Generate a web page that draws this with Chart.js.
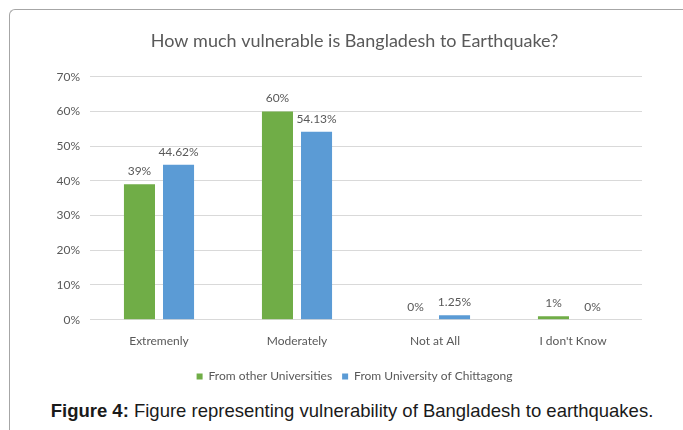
<!DOCTYPE html>
<html>
<head>
<meta charset="utf-8">
<script src="https://cdn.jsdelivr.net/npm/chart.js@4/dist/chart.umd.min.js"></script>
<style>
  html, body { margin: 0; padding: 0; background: #fff; }
  body { width: 683px; height: 430px; position: relative; overflow: hidden; }
  #frame {
    position: absolute; left: 9px; top: 9px; width: 700px; height: 440px;
    border-top: 1px solid #a6a6a6; border-left: 1px solid #a6a6a6;
    border-top-left-radius: 6px; box-sizing: border-box;
  }
  #wrap { position: absolute; left: 26px; top: 10px; width: 657px; height: 385px; }
  #caption {
    position: absolute; left: 0; width: 704px; top: 400px;
    text-align: center; font-family: "Liberation Sans", Arial, sans-serif;
    font-size: 18.5px; line-height: 21px; color: #1a1a1a; white-space: nowrap;
  }
</style>
</head>
<body>
<div id="frame"></div>
<div id="wrap"><canvas id="chart"></canvas></div>
<div id="caption"><b>Figure 4:</b> Figure representing vulnerability of Bangladesh to earthquakes.</div>
<script>
const categories = ["Extremenly", "Moderately", "Not at All", "I don't Know"];
const otherUniversities = [39, 60, 0, 1];
const chittagong = [44.62, 54.13, 1.25, 0];
const seriesNames = ["From other Universities", "From University of Chittagong"];
const yTicks = [0, 10, 20, 30, 40, 50, 60, 70];

const textGrey = "#595959";
const fontFamily = "Lato, 'Open Sans', sans-serif";

// value labels above each bar
const barValueLabels = {
  id: "barValueLabels",
  afterDatasetsDraw(chart) {
    const ctx = chart.ctx;
    ctx.save();
    ctx.font = "12px " + fontFamily;
    ctx.fillStyle = textGrey;
    ctx.textAlign = "center";
    ctx.textBaseline = "bottom";
    chart.data.datasets.forEach((ds, di) => {
      const meta = chart.getDatasetMeta(di);
      meta.data.forEach((bar, i) => {
        ctx.fillText(ds.data[i] + "%", bar.x, bar.y - 7);
      });
    });
    ctx.restore();
  }
};

new Chart(document.getElementById("chart"), {
  type: "bar",
  data: {
    labels: categories,
    datasets: [
      { label: seriesNames[0], data: otherUniversities, backgroundColor: "#70ad47",
        categoryPercentage: 0.566, barPercentage: 0.795 },
      { label: seriesNames[1], data: chittagong, backgroundColor: "#5b9bd5",
        categoryPercentage: 0.566, barPercentage: 0.795 }
    ]
  },
  options: {
    responsive: true,
    maintainAspectRatio: false,
    animation: false,
    layout: { padding: { top: 0, right: 0, bottom: 2.5, left: 0 } },
    plugins: {
      title: {
        display: true,
        text: "How much vulnerable is Bangladesh to Earthquake?",
        color: textGrey,
        font: { family: fontFamily, size: 18, weight: "normal" },
        padding: { top: 20, bottom: 25.1 }
      },
      legend: {
        position: "bottom",
        labels: {
          color: textGrey,
          font: { family: fontFamily, size: 12 },
          boxWidth: 6, boxHeight: 6, padding: 10
        }
      },
      tooltip: { enabled: false }
    },
    scales: {
      x: {
        grid: { display: false, drawTicks: false },
        border: { display: false },
        ticks: { color: textGrey, font: { family: fontFamily, size: 12 }, padding: 14 },
        afterFit(scale) { scale.height = 40.8; }
      },
      y: {
        min: 0, max: 70,
        afterBuildTicks(scale) { scale.ticks = yTicks.map(v => ({ value: v })); },
        grid: { color: "#d9d9d9", drawTicks: false, lineWidth: 1 },
        border: { display: false },
        ticks: { color: textGrey, font: { family: fontFamily, size: 12 }, padding: 10,
                 callback: v => v + "%" },
        afterFit(scale) { scale.width = 64; }
      },
      // blank right margin so the plot ends before the title/legend width does
      margin: {
        position: "right", min: 0, max: 70,
        grid: { display: false, drawTicks: false },
        border: { display: false },
        ticks: { display: false },
        afterFit(scale) { scale.width = 41; }
      }
    }
  },
  plugins: [barValueLabels]
});
</script>
</body>
</html>
